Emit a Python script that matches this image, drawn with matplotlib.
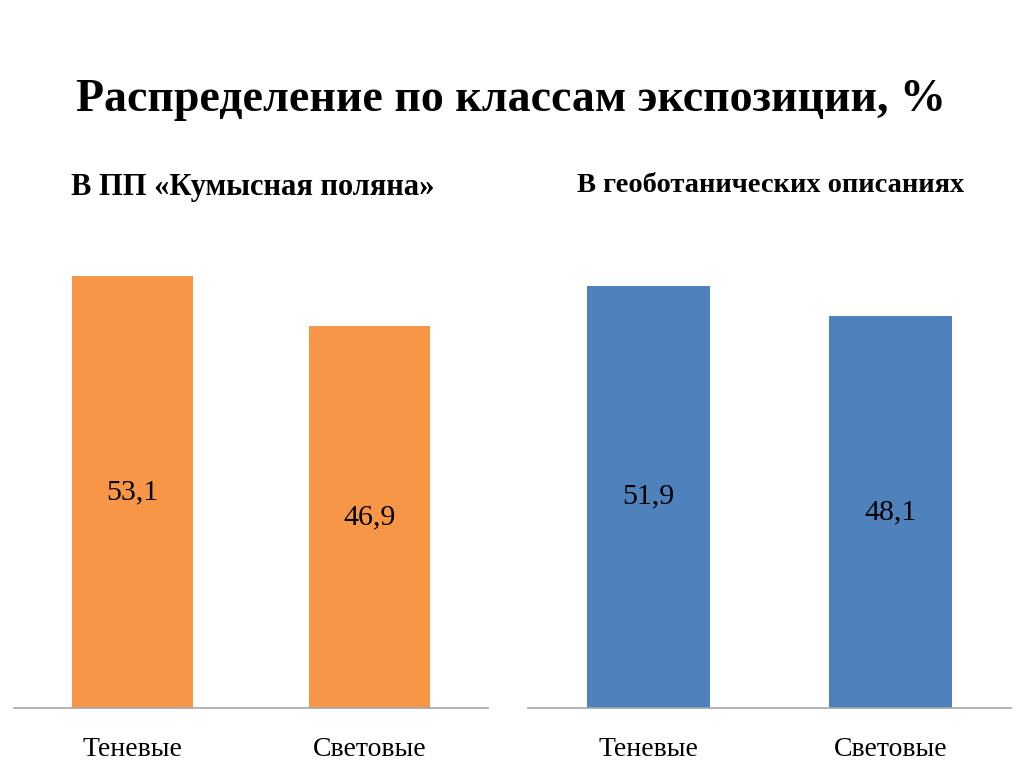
import matplotlib
matplotlib.use("Agg")
import matplotlib.pyplot as plt

categories = ["Теневые", "Световые"]
values_pp = [53.1, 46.9]
values_geo = [51.9, 48.1]
title = "Распределение по классам экспозиции, %"
subtitle_pp = "В ПП «Кумысная поляна»"
subtitle_geo = "В геоботанических описаниях"

plt.rcParams['font.family'] = ['Liberation Serif', 'DejaVu Serif']

W, H = 1024, 767
fig = plt.figure(figsize=(W/100, H/100), dpi=100)

base_y = 708
ymax = 60
scale = 8.14
top_y = base_y - ymax*scale

def add_axes(x0, x1):
    return fig.add_axes([x0/W, 1 - base_y/H, (x1-x0)/W, (base_y-top_y)/H])

def draw(ax, vals, color):
    x = range(len(categories))
    bars = ax.bar(x, vals, width=0.51, color=color, zorder=2)
    ax.set_xlim(-0.5, 1.5)
    ax.set_ylim(0, ymax)
    for s in ['top', 'right', 'left']:
        ax.spines[s].set_visible(False)
    ax.spines['bottom'].set_color('#A6A6A6')
    ax.spines['bottom'].set_linewidth(1.2)
    ax.set_yticks([])
    ax.set_xticks(list(x))
    ax.set_xticklabels(categories, fontsize=20)
    ax.tick_params(axis='x', length=0, pad=21)
    for b, v in zip(bars, vals):
        ax.text(b.get_x() + b.get_width()/2, v/2, f"{v:.1f}".replace('.', ','),
                ha='center', va='center', fontsize=21.5)

ax1 = add_axes(14, 488)
draw(ax1, values_pp, '#F79646')
ax2 = add_axes(528, 1011)
draw(ax2, values_geo, '#4F81BD')

fig.text(511/W, 1 - 100/H, title, ha='center', va='center', fontsize=33, fontweight='bold')
fig.text(253/W, 1 - 187/H, subtitle_pp, ha='center', va='center', fontsize=22, fontweight='bold')
fig.text(771/W, 1 - 186/H, subtitle_geo, ha='center', va='center', fontsize=20.5, fontweight='bold')

fig.savefig("out.png", dpi=100)
